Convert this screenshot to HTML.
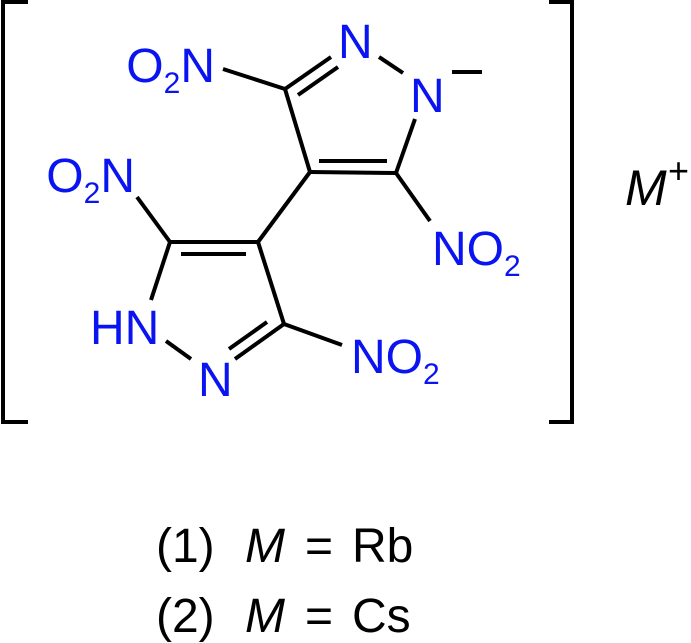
<!DOCTYPE html>
<html><head><meta charset="utf-8"><style>
html,body{margin:0;padding:0;background:#fff;}
svg{display:block;}
text{font-family:"Liberation Sans",sans-serif;}
.b{fill:#0a14f0;font-size:48px;}
.s{font-size:30px;}
</style></head><body>
<svg width="691" height="643" viewBox="0 0 691 643" xmlns="http://www.w3.org/2000/svg">
<g stroke="#000" stroke-width="4" fill="none" stroke-linecap="butt">
<polyline points="28,2 3,2 3,422 28,422"/>
<polyline points="549,2 572,2 572,422 549,422"/>
<line x1="285" y1="89" x2="331" y2="57"/>
<line x1="298" y1="95" x2="338" y2="67"/>
<line x1="379" y1="57" x2="403" y2="73"/>
<line x1="415" y1="119" x2="396" y2="173"/>
<line x1="396" y1="173" x2="310" y2="172"/>
<line x1="319" y1="161" x2="387" y2="161"/>
<line x1="310" y1="172" x2="285" y2="89"/>
<line x1="223" y1="69" x2="285" y2="89"/>
<line x1="396" y1="173" x2="430" y2="221"/>
<line x1="452" y1="72" x2="482" y2="72"/>
<line x1="310" y1="172" x2="258" y2="242"/>
<line x1="258" y1="242" x2="170" y2="242"/>
<line x1="181" y1="254" x2="246" y2="254"/>
<line x1="137" y1="197" x2="170" y2="242"/>
<line x1="170" y1="242" x2="151" y2="300"/>
<line x1="166" y1="341" x2="191" y2="359"/>
<line x1="235" y1="359" x2="284" y2="324"/>
<line x1="229" y1="349" x2="267" y2="322"/>
<line x1="284" y1="324" x2="258" y2="242"/>
<line x1="284" y1="324" x2="342" y2="345"/>
</g>
<text class="b" x="215" y="82" text-anchor="end">O<tspan class="s" dy="11">2</tspan><tspan dy="-11">N</tspan></text>
<text class="b" x="338" y="58">N</text>
<text class="b" x="410" y="112">N</text>
<text class="b" x="432" y="265">NO<tspan class="s" dy="11">2</tspan></text>
<text class="b" x="135" y="192" text-anchor="end">O<tspan class="s" dy="11">2</tspan><tspan dy="-11">N</tspan></text>
<text class="b" x="90" y="344">HN</text>
<text class="b" x="198" y="396">N</text>
<text class="b" x="351" y="373">NO<tspan class="s" dy="11">2</tspan></text>
<text x="625" y="205" font-size="50" font-style="italic">M</text>
<text x="668" y="183" font-size="36">+</text>
<text x="156" y="562" font-size="48">(1)</text>
<text x="245" y="562" font-size="48" font-style="italic">M</text>
<text x="305" y="562" font-size="48">=</text>
<text x="352" y="562" font-size="48">Rb</text>
<text x="156" y="632" font-size="48">(2)</text>
<text x="245" y="632" font-size="48" font-style="italic">M</text>
<text x="305" y="632" font-size="48">=</text>
<text x="352" y="632" font-size="48">Cs</text>
</svg>
</body></html>
